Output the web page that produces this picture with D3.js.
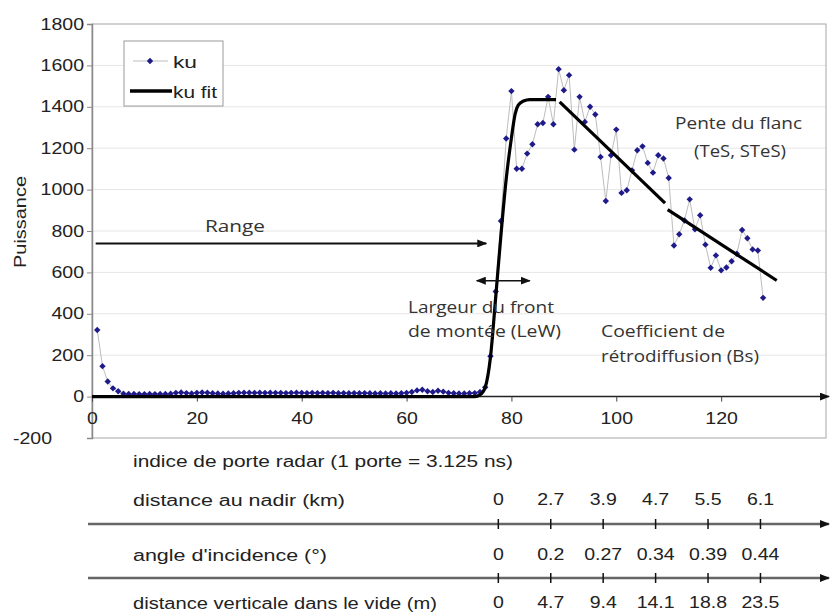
<!DOCTYPE html>
<html><head><meta charset="utf-8">
<script src="https://cdn.jsdelivr.net/npm/d3@7"></script>
<style>body{margin:0;background:#fff}svg{display:block}</style>
</head><body>
<svg id="c" width="830" height="615"></svg>
<script>
// ---------------- data ----------------
const gates = d3.range(1, 129);
const kuValues = [322,147,73,40,26,
  14,13,13,12,12,13,12,13,13,14,18,20,17,15,18,20,19,16,15,14,15,16,18,19,19,18,19,18,19,18,18,17,18,19,18,17,18,17,18,17,18,16,17,16,17,16,17,16,15,16,15,16,15,16,18,22,30,33,26,22,28,24,18,16,15,15,16,17,22,
  45,195,508,848,1247,1476,1101,1101,1174,1219,1316,1322,1448,1316,1582,1480,1553,1193,1448,1327,
  1400,1363,1158,945,1166,1290,984,997,1093,1190,1209,1129,1082,1166,1150,1056,730,784,851,953,
  808,876,734,622,682,610,624,654,690,805,765,711,706,477];
const fitRiseGates  = [0,73,74,75,76,77,78,79,80,80.7,81.3,82.3,83.5,88.5];
const fitRiseValues = [0,0,8,45,190,480,780,1050,1250,1365,1408,1428,1435,1435];
const fitSlope1Gates = [89.2,109.3], fitSlope1Values = [1424,935];
const fitSlope2Gates = [109.8,130.6], fitSlope2Values = [903,561];
const yTicks = [-200,0,200,400,600,800,1000,1200,1400,1600,1800];
const xTicks = [0,20,40,60,80,100,120];
const nadirLabels = ["0","2.7","3.9","4.7","5.5","6.1"];
const angleLabels = ["0","0.2","0.27","0.34","0.39","0.44"];
const vertLabels  = ["0","4.7","9.4","14.1","18.8","23.5"];
const vertDist = [0,4.7,9.4,14.1,18.8,23.5];
const gateDepth = 0.47;        // m per gate
const leadingEdgeGate = 77.5;  // origin of secondary axes
const rangeArrow = {from:0.7, to:75.2, level:740};
const lewArrow = {from:73.4, to:83.5, level:560};

// ---------------- setup ----------------
const svg = d3.select("#c");
const X = d3.scaleLinear().domain([0,140]).range([92,826]);
const Y = d3.scaleLinear().domain([-200,1800]).range([438,24]);
const ARIAL = "Liberation Sans, Arial, sans-serif";
const HUM = "Open Sans, Noto Sans, sans-serif";
const SX = 1.22;
const fmt = d => String(d);
const marker = d3.symbol(d3.symbolDiamond2 || d3.symbolDiamond, 26);

const defs = svg.append("defs");
defs.append("marker").attr("id","ah").attr("viewBox","0 0 10 8")
  .attr("refX",9).attr("refY",4).attr("markerWidth",10).attr("markerHeight",8)
  .attr("markerUnits","userSpaceOnUse").attr("orient","auto-start-reverse")
  .append("path").attr("d","M0,0L10,4L0,8Z").attr("fill","#111");

function label(str, x, y, width, o) {
  o = o || {};
  const t = svg.append("text").attr("x", x).attr("y", y)
    .attr("font-family", o.family || ARIAL).attr("font-size", o.size || 16)
    .attr("fill", o.fill || "#222").attr("dominant-baseline","central")
    .attr("text-anchor", o.anchor || "start").text(str);
  if (width) t.attr("textLength", width).attr("lengthAdjust","spacingAndGlyphs");
  return t;
}

// gridlines
svg.append("g").selectAll("line").data(yTicks.filter(v => v > 0 && v < 1800)).join("line")
  .attr("x1", X(0)).attr("x2", X(140)).attr("y1", d => Y(d)).attr("y2", d => Y(d))
  .attr("stroke", "#e6e6e6");

// frame
svg.append("rect").attr("x", X(0)).attr("y", Y(1800))
  .attr("width", X(140) - X(0)).attr("height", Y(-200) - Y(1800))
  .attr("fill", "none").attr("stroke", "#a6a6a6");

// y axis
const yAxis = svg.append("g").attr("transform", `translate(${X(0)},0)`)
  .call(d3.axisLeft(Y).tickValues(yTicks).tickFormat(fmt).tickSize(5).tickPadding(3));
yAxis.select(".domain").attr("stroke", "#8a8a8a").attr("stroke-width", 1.5);
yAxis.selectAll(".tick line").attr("stroke", "#8a8a8a");
yAxis.selectAll(".tick text").attr("font-family", ARIAL).attr("font-size", 16).attr("fill", "#222")
  .attr("transform", `scale(${SX},1)`).attr("x", d => (d === -200 ? -40 : -8) / SX);

// x axis at 0
svg.append("line").attr("x1", X(0)).attr("x2", 829).attr("y1", Y(0)).attr("y2", Y(0))
  .attr("stroke", "#222").attr("stroke-width", 1.5).attr("marker-end", "url(#ah)");
const xAxis = svg.append("g").attr("transform", `translate(0,${Y(0)})`)
  .call(d3.axisBottom(X).tickValues(xTicks).tickFormat(fmt).tickSize(5).tickPadding(11));
xAxis.select(".domain").remove();
xAxis.selectAll(".tick line").attr("stroke", "#444");
xAxis.selectAll(".tick text").attr("font-family", ARIAL).attr("font-size", 16).attr("fill", "#222")
  .attr("transform", `scale(${SX},1)`);

// ku series
const kuData = gates.map((g, i) => ({g, v: kuValues[i]}));
svg.append("path").datum(kuData)
  .attr("d", d3.line().x(d => X(d.g)).y(d => Y(d.v)))
  .attr("fill", "none").attr("stroke", "#bdbdbd").attr("stroke-width", 1);
svg.append("g").selectAll("path").data(kuData).join("path")
  .attr("transform", d => `translate(${X(d.g)},${Y(d.v)})`)
  .attr("d", marker)
  .attr("fill", "#1e1a8a");

// fit
const fitLine = d3.line().x(d => X(d[0])).y(d => Y(d[1]));
const segs = [
  [fitRiseGates, fitRiseValues, d3.curveMonotoneX],
  [fitSlope1Gates, fitSlope1Values, d3.curveLinear],
  [fitSlope2Gates, fitSlope2Values, d3.curveLinear]
];
segs.forEach(([gs, vs, c]) => {
  svg.append("path").datum(gs.map((g, i) => [g, vs[i]]))
    .attr("d", fitLine.curve(c)).attr("fill", "none")
    .attr("stroke", "#000").attr("stroke-width", 3.2).attr("stroke-linejoin", "round");
});

// legend
svg.append("rect").attr("x", 124).attr("y", 41).attr("width", 99).attr("height", 65)
  .attr("fill", "#fff").attr("stroke", "#9a9a9a");
svg.append("line").attr("x1", 133).attr("x2", 168).attr("y1", 61).attr("y2", 61)
  .attr("stroke", "#bdbdbd");
svg.append("path").attr("transform", "translate(150,61)").attr("d", marker())
  .attr("fill", "#1e1a8a");
svg.append("line").attr("x1", 130).attr("x2", 172).attr("y1", 91).attr("y2", 91)
  .attr("stroke", "#000").attr("stroke-width", 3.5);
label("ku", 173, 62, 24);
label("ku fit", 173, 92, 44);

// y title
svg.append("text").attr("transform", "translate(20,222) rotate(-90)")
  .attr("text-anchor", "middle").attr("dominant-baseline", "central")
  .attr("font-family", ARIAL).attr("font-size", 17).attr("fill", "#222")
  .attr("textLength", 92).attr("lengthAdjust", "spacingAndGlyphs").text("Puissance");

// annotations
svg.append("line").attr("x1", X(rangeArrow.from)).attr("x2", X(rangeArrow.to))
  .attr("y1", Y(rangeArrow.level)).attr("y2", Y(rangeArrow.level))
  .attr("stroke", "#111").attr("stroke-width", 2).attr("marker-end", "url(#ah)");
svg.append("line").attr("x1", X(lewArrow.from)).attr("x2", X(lewArrow.to))
  .attr("y1", Y(lewArrow.level)).attr("y2", Y(lewArrow.level))
  .attr("stroke", "#111").attr("stroke-width", 1.6)
  .attr("marker-start", "url(#ah)").attr("marker-end", "url(#ah)");

const H = {family: HUM, size: 16, fill: "#333"};
label("Range", 205, 226, 60, H);
label("Largeur du front", 408, 307, 146, H);
label("de montée (LeW)", 408, 331, 153, H);
label("Coefficient de", 601, 331, 124, H);
label("rétrodiffusion (Bs)", 601, 356, 158, H);
label("Pente du flanc", 675, 123, 127, H);
label("(TeS, STeS)", 694, 151, 92, H);

// secondary axes
label("indice de porte radar (1 porte = 3.125 ns)", 133, 461, 380);
label("distance au nadir (km)", 133, 500, 212);
label("angle d'incidence (°)", 133, 555, 194);
label("distance verticale dans le vide (m)", 133, 603, 304);

const tx = vertDist.map(d => X(leadingEdgeGate + d / gateDepth));
[524, 578].forEach(yy => {
  svg.append("line").attr("x1", 88).attr("x2", 829).attr("y1", yy).attr("y2", yy)
    .attr("stroke", "#666").attr("stroke-width", 2.5).attr("marker-end", "url(#ah)");
  svg.append("g").selectAll("line").data(tx).join("line")
    .attr("x1", d => d).attr("x2", d => d).attr("y1", yy - 5).attr("y2", yy + 5)
    .attr("stroke", "#111").attr("stroke-width", 1.5);
});
[[nadirLabels, 500], [angleLabels, 555], [vertLabels, 603]].forEach(([labs, yy]) => {
  svg.append("g").selectAll("text").data(labs).join("text")
    .attr("transform", (d, i) => `translate(${tx[i]},${yy}) scale(${SX},1)`)
    .attr("text-anchor", "middle").attr("dominant-baseline", "central")
    .attr("font-family", ARIAL).attr("font-size", 16).attr("fill", "#222").text(d => d);
});
</script>
</body></html>
